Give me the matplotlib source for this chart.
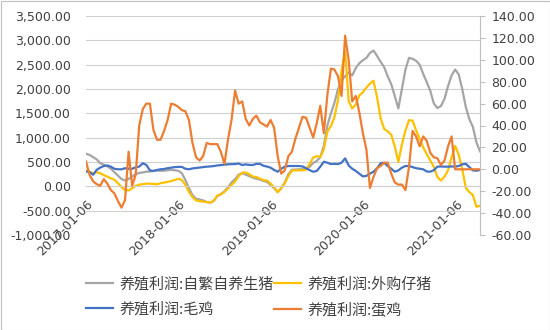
import matplotlib
matplotlib.use("Agg")
import matplotlib.pyplot as plt
import pandas as pd
from matplotlib.ticker import FuncFormatter, MultipleLocator
from matplotlib.font_manager import FontProperties
from matplotlib.patches import Rectangle

# Fortnightly observations
dates = pd.date_range("2017-01-06", periods=112, freq="14D")

# 养殖利润:自繁自养生猪 (left axis)
pig_self_bred = [
    670, 645, 600, 555, 475, 445, 410, 363, 290, 220,
    150, 120, 150, 200, 250, 275, 285, 300, 305, 315,
    325, 320, 320, 330, 340, 330, 320, 270, 130, -40,
    -180, -255, -270, -290, -320, -335, -300, -200, -160, -100,
    -20, 80, 150, 240, 270, 240, 210, 180, 155, 140,
    110, 90, 30, -40, -120, -40, 80, 250, 340, 345,
    350, 350, 360, 400, 480, 520, 600, 830, 1250, 1500,
    1720, 2000, 2180, 2260, 2340, 2280, 2430, 2530, 2590, 2640,
    2740, 2790, 2680, 2560, 2450, 2260, 2100, 1850, 1600, 2000,
    2400, 2640, 2620, 2580, 2500, 2310, 2140, 1960, 1700, 1610,
    1650, 1800, 2060, 2280, 2400, 2300, 2000, 1630, 1380, 1220,
    900, 720,
]

# 养殖利润:外购仔猪 (left axis)
pig_bought_in = [
    330, 300, 265, 290, 270, 230, 200, 165, 137, 65,
    -15, -75, -85, -40, 10, 35, 45, 55, 55, 50,
    40, 65, 78, 90, 110, 130, 155, 130, 30, -115,
    -220, -290, -305, -312, -325, -335, -295, -190, -165, -115,
    -45, 30, 100, 210, 280, 285, 250, 200, 190, 160,
    125, 120, 55, -20, -120, -40, 60, 210, 320, 330,
    330, 330, 340, 460, 590, 620, 600, 760, 1120, 1240,
    1420, 1780, 2380, 2790, 1750, 1600, 1680, 1870, 1930, 2030,
    2110, 2170, 1830, 1400, 1180, 1130, 1060, 820, 500, 860,
    1150, 1360, 1350, 1150, 980, 800, 660, 530, 400, 190,
    120, 200, 330, 600, 830, 650, 350, -30, -120, -180,
    -420, -400,
]

# 养殖利润:毛鸡 (right axis)
broiler = [
    -2, -2.5, -5, -0.5, 1.5, 3, 3.5, 2.4, 0.5, 0,
    0, 1, 0.5, 0.5, 1.8, 2.5, 5.5, 4, -1, -1.5,
    -0.6, 0, 0.3, 1, 1.5, 2, 2.2, 2.2, 0.5, 0,
    0.8, 1.2, 1.6, 2, 2.4, 2.6, 3, 3.5, 3.9, 4.2,
    4.6, 4.7, 4.8, 5.3, 3.9, 4.5, 4, 3.9, 5, 5,
    3.2, 2.5, 1.5, -0.6, -2.2, 0.5, 2.4, 3, 3, 3,
    3, 2.6, 1, -0.8, -2.2, -1.5, 2.4, 6.9, 6, 4.8,
    5, 4.8, 6, 10, 3.5, 0.5, -1.5, -4, -6.5, -6,
    -4, -2.2, 1, 5.5, 6, 3, 0.5, -2.2, -1, 1.5,
    3, 3, 2, 1, 0.5, 0, -2, -2.2, -0.8, 2.4,
    2.6, 2.4, 2.4, 2.6, 2.4, 3, 4.5, 5, 2, -1,
    -1.3, -0.6,
]

# 养殖利润:蛋鸡 (right axis)
layer_hen = [
    7, -5, -11, -13.5, -15, -9, -13, -19, -22, -29,
    -35, -28, 16, -15, -5, 40, 55, 60, 60, 36,
    27, 27, 35, 45, 60, 59, 57, 54, 53, 45,
    24, 11, 8, 12, 24, 23, 23, 23, 16, 5,
    27, 45, 72, 60, 62, 46, 40, 46, 49, 43,
    41, 39, 45, 38, 12, -4, -1, 12, 16, 28,
    38, 48, 47, 38, 29, 42, 58, 33, 68, 92,
    91, 85, 67, 122, 100, 62, 67, 52, 33, 18,
    -17, -7, 1, 3, 6, 6, -4, -12, -14, -14,
    -19, 2, 35, 30, 21, 30, 26, 15, 11, 10,
    4, 8, 21, 30, 0, 0, 0, 0, 0, 0,
    0, 0,
]

x_tick_labels = ["2017-01-06", "2018-01-06", "2019-01-06", "2020-01-06", "2021-01-06"]
series_names = ["养殖利润:自繁自养生猪", "养殖利润:外购仔猪", "养殖利润:毛鸡", "养殖利润:蛋鸡"]
colors = ["#a5a5a5", "#ffc000", "#4472c4", "#ed7d31"]

plt.rcParams["font.family"] = ["DejaVu Sans"]
text_color = "#404040"
grid_color = "#d0d0d0"

W, H = 550, 330
fig = plt.figure(figsize=(W / 100, H / 100), dpi=100)
left, right, top, bottom = 86, 480, 16, 235
ax = fig.add_axes([left / W, 1 - bottom / H, (right - left) / W, (bottom - top) / H])
ax2 = ax.twinx()

lw = 1.6
l1, = ax.plot(dates, pig_self_bred, color=colors[0], lw=lw)
l2, = ax.plot(dates, pig_bought_in, color=colors[1], lw=lw)
l3, = ax2.plot(dates, broiler, color=colors[2], lw=lw)
l4, = ax2.plot(dates, layer_hen, color=colors[3], lw=lw)

ax.set_xlim(dates[0], dates[-1])
ax.set_ylim(-1000, 3500)
ax2.set_ylim(-60, 140)
ax.yaxis.set_major_locator(MultipleLocator(500))
ax2.yaxis.set_major_locator(MultipleLocator(20))
ax.yaxis.set_major_formatter(FuncFormatter(lambda v, p: f"{v:,.2f}"))
ax2.yaxis.set_major_formatter(FuncFormatter(lambda v, p: f"{v:.2f}"))

ax.grid(axis="y", color=grid_color, lw=0.8)
ax.set_axisbelow(True)

for a in (ax, ax2):
    a.spines["top"].set_visible(False)
    a.spines["left"].set_visible(False)
ax.spines["right"].set_visible(False)
ax2.spines["bottom"].set_visible(False)
ax2.spines["right"].set_color("#bfbfbf")

# Category axis crosses the left scale at zero
ax.spines["bottom"].set_position(("data", 0))
ax.spines["bottom"].set_color(grid_color)
ax.set_xticks([pd.Timestamp(s) for s in x_tick_labels])
ax.set_xticklabels(x_tick_labels, rotation=45, ha="right", va="top",
                   rotation_mode="anchor")
ax.tick_params(axis="x", length=0, pad=8, labelsize=9, labelcolor=text_color)
ax.tick_params(axis="y", length=0, pad=11, labelsize=9, labelcolor=text_color)
ax2.tick_params(axis="y", length=3.6, width=0.8, color="#bfbfbf", pad=4.5,
                labelsize=9, labelcolor=text_color)

fig.legend([l1, l3, l2, l4],
           [series_names[0], series_names[2], series_names[1], series_names[3]],
           ncol=2, loc="upper left", bbox_to_anchor=(86 / W, 1 - 277 / H),
           frameon=False,
           prop=FontProperties(family=["Noto Sans CJK SC", "DejaVu Sans"], size=10.8),
           labelcolor=text_color, handlelength=1.8, handletextpad=0.45,
           columnspacing=0.0, labelspacing=0.7, borderpad=0, borderaxespad=0)

fig.patches.append(Rectangle((0.5 / W, 0.5 / H), 1 - 1 / W, 1 - 1 / H,
                             transform=fig.transFigure, fill=False,
                             edgecolor="#bfbfbf", lw=0.8))

fig.savefig("out.png", dpi=100)
